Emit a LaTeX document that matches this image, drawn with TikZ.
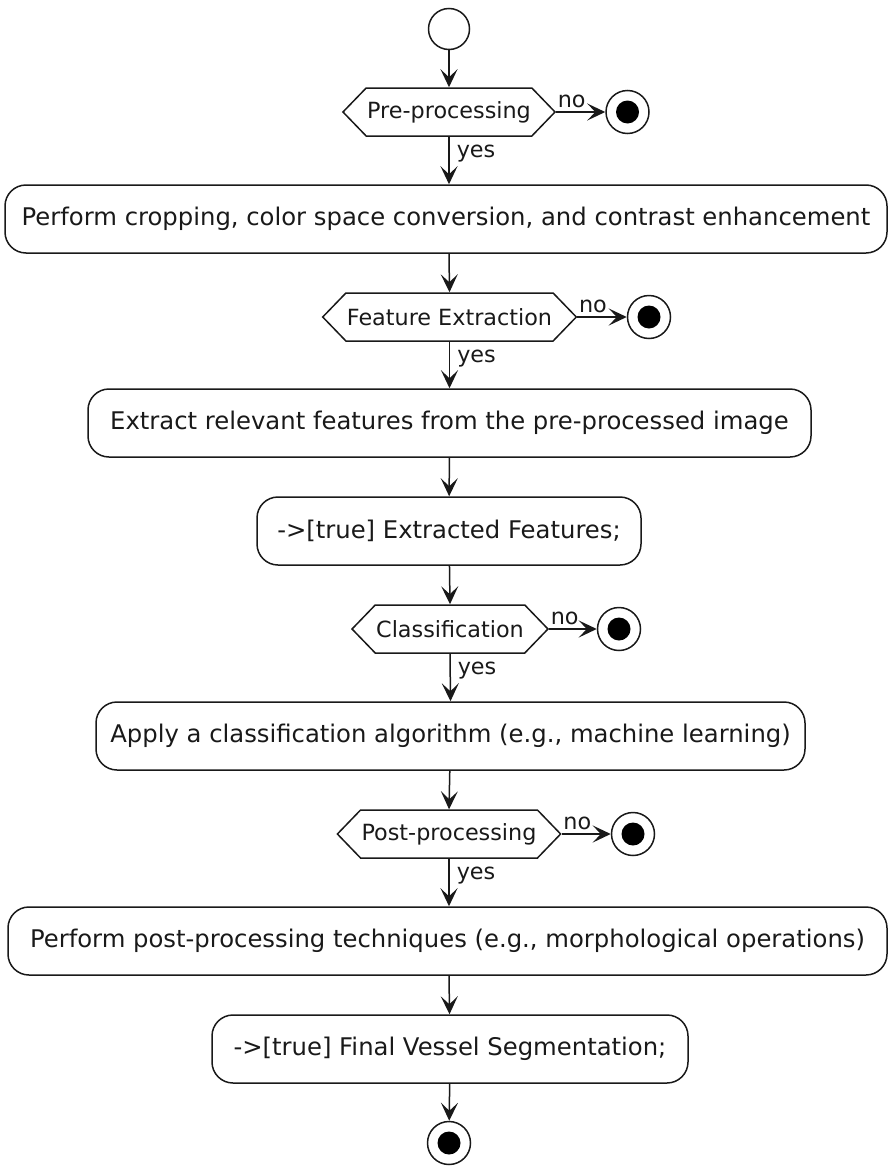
\documentclass[tikz,border=0pt]{standalone}
\usepackage{fontspec}
\setmainfont{DejaVu Sans}
\usetikzlibrary{arrows.meta,shapes.symbols}

\begin{document}
\begin{tikzpicture}[
    x=1pt, y=-1pt,
    line width=1.5pt,
    every node/.style={draw=black!90, text=black!90},
    box/.style={rectangle, draw, rounded corners=21pt, minimum height=68pt, inner xsep=8pt, font=\fontsize{24.3}{28}\selectfont},
    test/.style={signal, signal to=west and east, signal pointer angle=92, draw, minimum height=48pt, inner xsep=1pt, inner ysep=0pt, font=\fontsize{22.3}{26}\selectfont},
    startc/.style={circle, draw, minimum size=41pt, inner sep=0pt},
    stopc/.style={circle, draw, minimum size=43pt, inner sep=0pt, path picture={\fill[black] (path picture bounding box.center) circle (11.5pt);}},
    flow/.style={draw=black!90, -{Stealth[length=18pt, width=17pt, inset=8pt]}},
    lbl/.style={draw=none, font=\fontsize{22.3}{26}\selectfont, inner sep=0pt}
]
\useasboundingbox (0,0) rectangle (888,1167);

% Start
\node[startc] (start) at (449,29) {};

% Pre-processing
\node[test] (pre) at (449,112) {Pre-processing};
\node[stopc] (stop1) at (627.5,112) {};
\node[box, minimum width=882pt] (crop) at (446,219) {Perform cropping, color space conversion, and contrast enhancement};

% Feature extraction
\node[test] (feat) at (449.5,317) {Feature Extraction};
\node[stopc] (stop2) at (649,317) {};
\node[box, minimum width=723pt] (extract) at (449.5,423) {Extract relevant features from the pre-processed image};
\node[box, minimum width=384pt] (features) at (449,531) {->[true] Extracted Features;};

% Classification
\node[test] (cls) at (450,629) {Classification};
\node[stopc] (stop3) at (619,629) {};
\node[box, minimum width=709pt] (apply) at (450.5,736) {Apply a classification algorithm (e.g., machine learning)};

% Post-processing
\node[test] (post) at (449,834) {Post-processing};
\node[stopc] (stop4) at (633,834) {};
\node[box, minimum width=879pt] (morph) at (447.5,941) {Perform post-processing techniques (e.g., morphological operations)};
\node[box, minimum width=476pt] (final) at (450,1049) {->[true] Final Vessel Segmentation;};

% End
\node[stopc] (stop5) at (449,1143) {};

% Arrows
\draw[flow] (start) -- (pre.north);
\draw[flow] (pre.east) -- node[lbl, pos=0, anchor=base west, xshift=1pt, yshift=5pt] {no} (stop1.west);
\draw[flow] (pre.south) -- node[lbl, pos=0, anchor=base west, xshift=7pt, yshift=-21pt] {yes} (pre.south |- crop.north);
\draw[flow] (pre.south |- crop.south) -- (feat.north);
\draw[flow] (feat.east) -- node[lbl, pos=0, anchor=base west, xshift=1pt, yshift=5pt] {no} (stop2.west);
\draw[flow] (feat.south) -- node[lbl, pos=0, anchor=base west, xshift=7pt, yshift=-21pt] {yes} (extract.north);
\draw[flow] (extract) -- (features);
\draw[flow] (features) -- (cls.north);
\draw[flow] (cls.east) -- node[lbl, pos=0, anchor=base west, xshift=1pt, yshift=5pt] {no} (stop3.west);
\draw[flow] (cls.south) -- node[lbl, pos=0, anchor=base west, xshift=7pt, yshift=-21pt] {yes} (apply.north);
\draw[flow] (apply) -- (post.north);
\draw[flow] (post.east) -- node[lbl, pos=0, anchor=base west, xshift=1pt, yshift=5pt] {no} (stop4.west);
\draw[flow] (post.south) -- node[lbl, pos=0, anchor=base west, xshift=7pt, yshift=-21pt] {yes} (post.south |- morph.north);
\draw[flow] (post.south |- morph.south) -- (final);
\draw[flow] (final) -- (stop5);

\end{tikzpicture}
\end{document}
